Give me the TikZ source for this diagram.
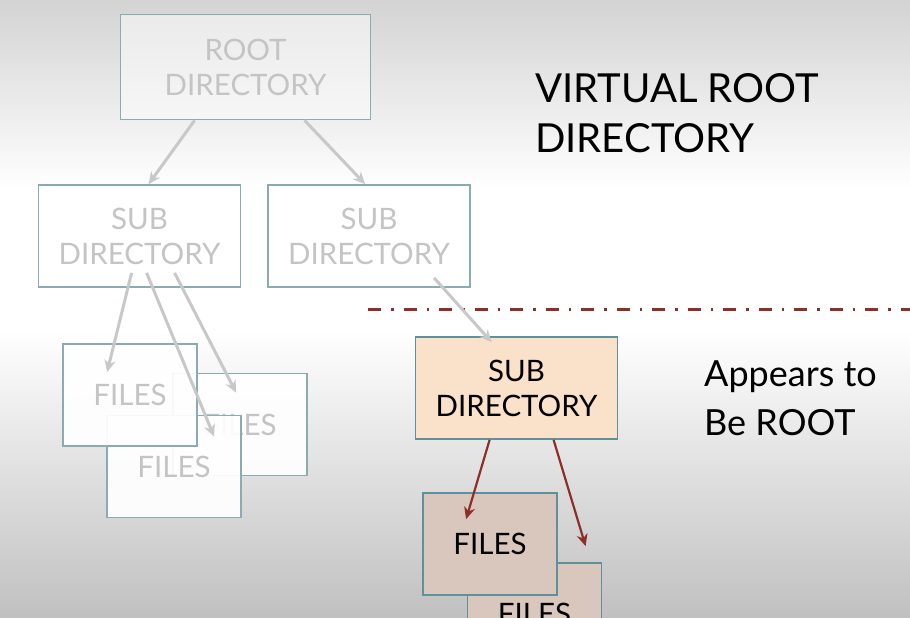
\documentclass[tikz,border=0pt]{standalone}
\usepackage{fontspec}
\setmainfont{Lato}
\usetikzlibrary{arrows.meta,calc}
\definecolor{bgTop}{HTML}{D3D3D3}
\definecolor{bgBot}{HTML}{C0C0C0}
\definecolor{fadeEdge}{HTML}{8AABB2}
\definecolor{fadeText}{HTML}{C4C4C4}
\definecolor{fadeLink}{HTML}{C8C8C8}
\definecolor{liveEdge}{HTML}{5E919C}
\definecolor{liveLink}{HTML}{8C2F2B}
\definecolor{dirFill}{HTML}{F9E1CA}
\definecolor{fileFill}{HTML}{D9C6BD}

\begin{document}
\begin{tikzpicture}[x=1pt,y=-1pt,
 fadebox/.style={draw=fadeEdge,line width=1.8pt,fill=white,fill opacity=.5,text opacity=1,
  text=fadeText,inner sep=0pt,align=center,font=\fontsize{29.5}{35}\selectfont},
 livebox/.style={draw=liveEdge,line width=1.8pt,inner sep=0pt,align=center,
  text=black,font=\fontsize{29.5}{35}\selectfont},
 dirsize/.style={minimum width=202pt,minimum height=102pt},
 filesize/.style={minimum width=134pt,minimum height=102pt,fill opacity=.93},
 fadearrow/.style={fadeLink,line width=3pt,-{Stealth[length=12pt,width=11pt]}},
 livearrow/.style={liveLink,line width=2.2pt,-{Stealth[length=12pt,width=11pt]}},
 cutline/.style={liveLink,line width=3pt,dash pattern=on 13pt off 10pt on 2.5pt off 10pt},
 headtext/.style={inner sep=0pt,align=left,anchor=north west}]
\useasboundingbox (0,0) rectangle (910,618);
% backdrop
\shade[top color=bgTop,bottom color=white] (0,0) rectangle (910,190);
\fill[white] (0,190) rectangle (910,330);
\shade[top color=white,bottom color=bgBot] (0,330) rectangle (910,618);

% real tree, faded
\node[fadebox,minimum width=250pt,minimum height=105pt] (root) at (245.5,67) {ROOT\\DIRECTORY};
\node[fadebox,dirsize] (subL) at (139.5,236) {SUB\\DIRECTORY};
\node[fadebox,dirsize] (subM) at (369,236) {SUB\\DIRECTORY};
\node[fadebox,filesize] (filesB) at (240,424.5) {FILES};
\node[fadebox,filesize] (filesC) at (174,466.5) {FILES};
\node[fadebox,filesize] (filesA) at (130,395) {FILES};

\draw[fadearrow] ($(root.south west)+(75,0)$) -- ($(subL.north west)+(111,0)$);
\draw[fadearrow] ($(root.south west)+(185,0)$) -- ($(subM.north west)+(98,0)$);
\draw[fadearrow] ($(subL.south west)+(94,-15)$) -- ($(filesA.north west)+(45,29)$);
\draw[fadearrow] ($(subL.south west)+(109,-15)$) -- ($(filesC.north west)+(108,22)$);
\draw[fadearrow] ($(subL.south west)+(137,-15)$) -- ($(filesB.north west)+(64,20)$);

% boundary of the virtual root
\draw[cutline] (368,309) -- (910,309);

% what the user sees
\node[livebox,dirsize,fill=dirFill] (subV) at (516.5,388) {SUB\\DIRECTORY};
\node[livebox,filesize,fill=fileFill,fill opacity=1] (filesG) at (534.5,614) {FILES};
\node[livebox,filesize,fill=fileFill,fill opacity=1] (filesF) at (490,544) {FILES};

\draw[fadearrow] ($(subM.south west)+(167,-10)$) -- ($(subV.north west)+(77,6)$);
\draw[livearrow] ($(subV.south west)+(75,0)$) -- ($(filesF.north west)+(44,27)$);
\draw[livearrow] ($(subV.south west)+(139,0)$) -- ($(filesG.north west)+(119,-16)$);

\node[headtext,font=\fontsize{40}{50}\selectfont] (title) at (535,73) {VIRTUAL ROOT\\DIRECTORY};
\node[headtext,font=\fontsize{36}{49}\selectfont] (note) at (704,361) {Appears to\\Be ROOT};
\end{tikzpicture}
\end{document}
